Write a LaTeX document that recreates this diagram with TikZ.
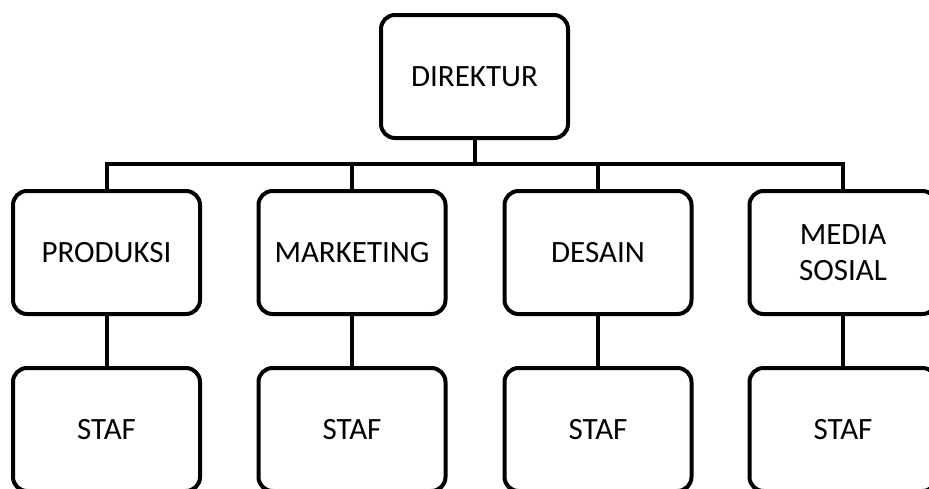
\documentclass[tikz,border=0pt]{standalone}
\usepackage{fontspec}
\setmainfont{Carlito}
\usetikzlibrary{positioning}

\begin{document}
\begin{tikzpicture}[
  x=1pt,y=-1pt,
  every node/.style={align=center,font=\fontsize{31}{36}\selectfont},
  unit/.style={draw,line width=4pt,rounded corners=14pt,
    minimum width=187pt,minimum height=123pt,inner sep=0pt},
  link/.style={line width=4pt}]

  \clip (0,0) rectangle (929,488);

  % Position the nodes
  \node[unit] (direktur) at (474.5,76.5) {DIREKTUR};

  \node[unit] (produksi) at (106.5,252.5) {PRODUKSI};
  \node[unit] (marketing) at (352,252.5) {MARKETING};
  \node[unit] (desain) at (598,252.5) {DESAIN};
  \node[unit] (mediasosial) at (843,252.5) {MEDIA\\SOSIAL};

  \node[unit] (stafproduksi) at (106.5,429.5) {STAF};
  \node[unit] (stafmarketing) at (352,429.5) {STAF};
  \node[unit] (stafdesain) at (598,429.5) {STAF};
  \node[unit] (stafmediasosial) at (843,429.5) {STAF};

  % Draw the lines between the nodes
  \draw[link] (direktur.south) -- ++(0,24) coordinate (bus);
  \draw[link] (bus) -| (produksi.north);
  \draw[link] (bus) -| (marketing.north);
  \draw[link] (bus) -| (desain.north);
  \draw[link] (bus) -| (mediasosial.north);
  \draw[link] (produksi) -- (stafproduksi);
  \draw[link] (marketing) -- (stafmarketing);
  \draw[link] (desain) -- (stafdesain);
  \draw[link] (mediasosial) -- (stafmediasosial);
\end{tikzpicture}
\end{document}
